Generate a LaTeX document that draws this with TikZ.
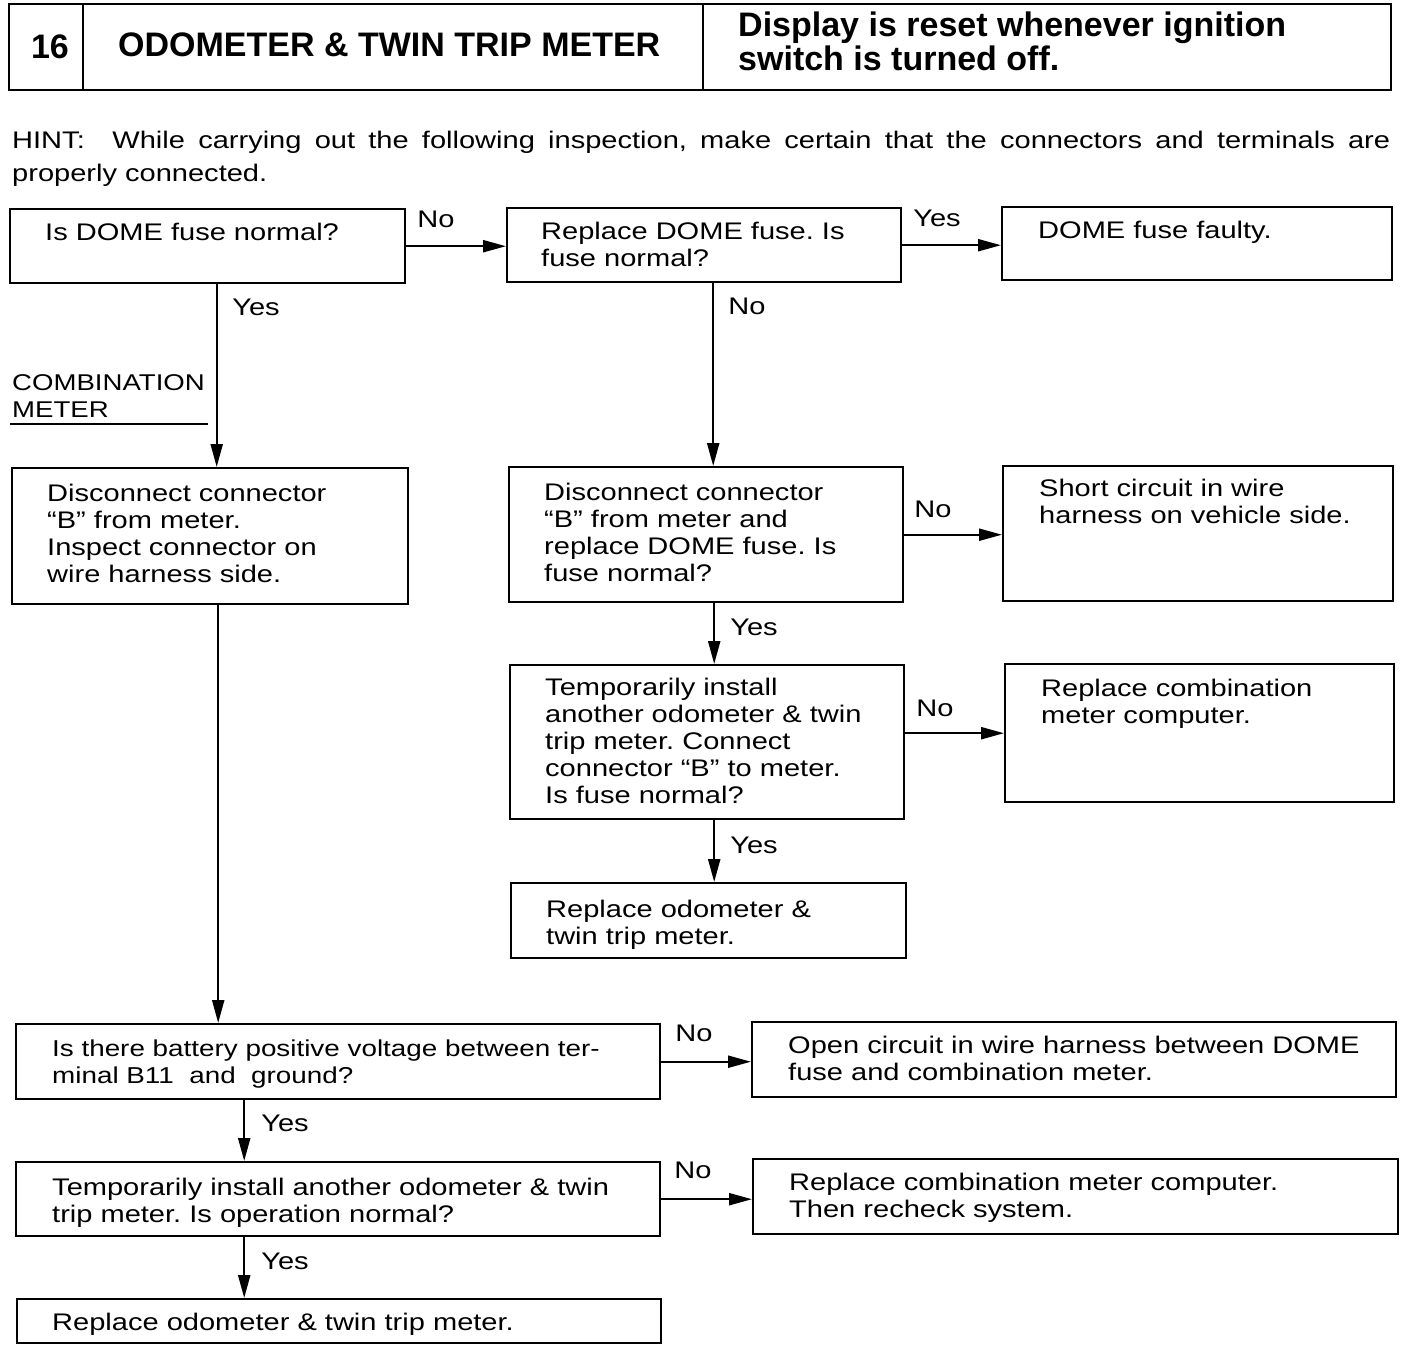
\documentclass[tikz,border=0pt]{standalone}
\usepackage{fontspec}
\setmainfont{Liberation Sans}[FakeStretch=1.21]
\newfontfamily\headfont{Liberation Sans}
\usetikzlibrary{arrows.meta}
\frenchspacing
\begin{document}
\begin{tikzpicture}[x=1pt,y=-1pt,
  box/.style={draw, line width=2.4pt, inner sep=0pt, anchor=north west},
  txt/.style={inner sep=0pt, anchor=north west, align=left, font=\fontsize{24}{27}\selectfont},
  lbl/.style={inner sep=0pt, font=\fontsize{24}{27}\selectfont},
  arr/.style={line width=2.2pt, -{Triangle[length=23pt,width=12pt]}},
  hd/.style={inner sep=0pt, font=\headfont\bfseries\fontsize{34}{34}\selectfont}]
\fill[white] (0,0) rectangle (1408,1358);
\useasboundingbox (0,0) rectangle (1408,1358);
\newcommand\st{\rule{0pt}{20pt}}
% header
\node[draw, line width=2pt, inner sep=0pt, anchor=north west, minimum width=1382pt, minimum height=86pt] (hdr) at (8,3) {};
\coordinate (d1) at (83,3);
\coordinate (d2) at (703,3);
\draw[line width=2pt] (d1) -- (d1 |- hdr.south);
\draw[line width=2pt] (d2) -- (d2 |- hdr.south);
\node[hd, anchor=base] (num) at (50,58) {16};
\node[hd, anchor=base west] (title) at (118,56) {ODOMETER \& TWIN TRIP METER};
\node[hd, anchor=north west, align=left] (note) at (738,10) {\rule{0pt}{26pt}Display is reset whenever ignition\\switch is turned off.};
% hint
\node[txt, text width=1378pt, align=justify, font=\fontsize{24}{33}\selectfont] (hint) at (12,128)
  {\st HINT:\hspace{0.6em} While carrying out the following inspection, make certain that the connectors and terminals are\linebreak properly connected.};
% boxes
\node[box, minimum width=395pt, minimum height=74pt] (A) at (9,208) {};
\node[box, minimum width=394pt, minimum height=74pt] (B) at (506,207) {};
\node[box, minimum width=390pt, minimum height=73pt] (C) at (1001,206) {};
\node[box, minimum width=396pt, minimum height=136pt] (D) at (11,467) {};
\node[box, minimum width=394pt, minimum height=135pt] (E) at (508,466) {};
\node[box, minimum width=390pt, minimum height=135pt] (F) at (1002,465) {};
\node[box, minimum width=394pt, minimum height=154pt] (G) at (509,664) {};
\node[box, minimum width=389pt, minimum height=138pt] (H) at (1004,663) {};
\node[box, minimum width=395pt, minimum height=75pt] (I) at (510,882) {};
\node[box, minimum width=644pt, minimum height=75pt] (J) at (15,1023) {};
\node[box, minimum width=644pt, minimum height=75pt] (K) at (751,1021) {};
\node[box, minimum width=644pt, minimum height=74pt] (L) at (15,1161) {};
\node[box, minimum width=645pt, minimum height=75pt] (M) at (752,1158) {};
\node[box, minimum width=644pt, minimum height=44pt] (N) at (16,1298) {};
% texts
\node[txt] (At) at (45,220) {\st Is DOME fuse normal?};
\node[txt] (Bt) at (541,219) {\st Replace DOME fuse. Is\\fuse normal?};
\node[txt] (Ct) at (1038,218) {\st DOME fuse faulty.};
\node[txt] (Dt) at (47,481) {\st Disconnect connector\\“B” from meter.\\Inspect connector on\\wire harness side.};
\node[txt] (Et) at (544,480) {\st Disconnect connector\\“B” from meter and\\replace DOME fuse. Is\\fuse normal?};
\node[txt] (Ft) at (1039,476) {\st Short circuit in wire\\harness on vehicle side.};
\node[txt] (Gt) at (545,675) {\st Temporarily install\\another odometer \& twin\\trip meter. Connect\\connector “B” to meter.\\Is fuse normal?};
\node[txt] (Ht) at (1041,676) {\st Replace combination\\meter computer.};
\node[txt] (It) at (546,897) {\st Replace odometer \&\\twin trip meter.};
\node[txt, font=\fontsize{23}{27}\selectfont] (Jt) at (52,1036) {\st Is there battery positive voltage between ter-\\minal B11 \ and \ ground?};
\node[txt] (Kt) at (788,1033) {\st Open circuit in wire harness between DOME\\fuse and combination meter.};
\node[txt] (Lt) at (52,1175) {\st Temporarily install another odometer \& twin\\trip meter. Is operation normal?};
\node[txt] (Mt) at (789,1170) {\st Replace combination meter computer.\\Then recheck system.};
\node[txt] (Nt) at (52,1310) {\st Replace odometer \& twin trip meter.};
% side note
\node[txt, font=\fontsize{22.8}{27}\selectfont] (cm) at (12,370) {\st COMBINATION\\METER};
\coordinate (u1) at (10,424);
\coordinate (u2) at (208,424);
\draw[line width=1.5pt] (u1) -- (u2);
% connectors
\draw[arr] (A.east) -- (A.east -| B.west);
\draw[arr] (B.east) -- (B.east -| C.west);
\draw[arr] ([xshift=9pt]A.south) -- ([xshift=9pt]A.south |- D.north);
\draw[arr] ([xshift=9pt]B.south) -- ([xshift=9pt]B.south |- E.north);
\draw[arr] (E.east) -- (E.east -| F.west);
\draw[arr] ([xshift=8pt]E.south) -- ([xshift=8pt]E.south |- G.north);
\draw[arr] (G.east |- H.west) -- (H.west);
\draw[arr] ([xshift=7pt]G.south) -- ([xshift=7pt]G.south |- I.north);
\draw[arr] ([xshift=8pt]D.south) -- ([xshift=8pt]D.south |- J.north);
\draw[arr] (J.east) -- (J.east -| K.west);
\draw[arr] ([xshift=-94pt]J.south) -- ([xshift=-94pt]J.south |- L.north);
\draw[arr] (L.east) -- (L.east -| M.west);
\draw[arr] ([xshift=-94pt]L.south) -- ([xshift=-94pt]L.south |- N.north);
% labels
\node[lbl] (l1) at (436,219) {No};
\node[lbl] (l2) at (937,218) {Yes};
\node[lbl] (l3) at (256,307) {Yes};
\node[lbl] (l4) at (747,306) {No};
\node[lbl] (l5) at (933,509) {No};
\node[lbl] (l6) at (754,627) {Yes};
\node[lbl] (l7) at (935,708) {No};
\node[lbl] (l8) at (754,845) {Yes};
\node[lbl] (l9) at (694,1033) {No};
\node[lbl] (l10) at (285,1123) {Yes};
\node[lbl] (l11) at (693,1170) {No};
\node[lbl] (l12) at (285,1261) {Yes};
\end{tikzpicture}
\end{document}
